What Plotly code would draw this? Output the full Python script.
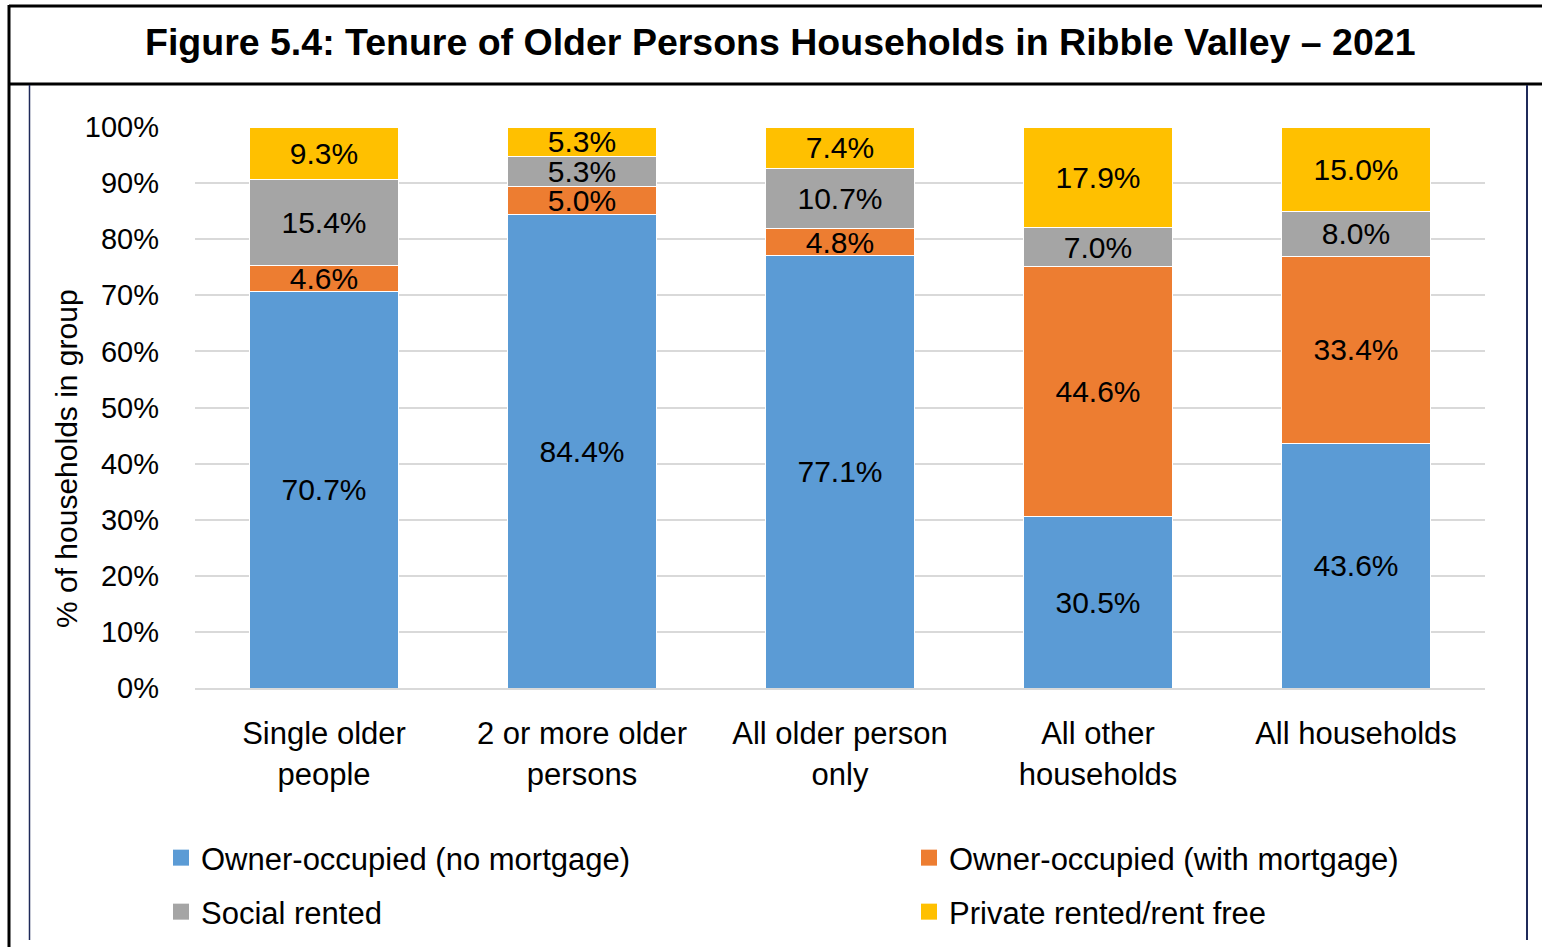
import plotly.graph_objects as go

categories = ["Single older<br>people", "2 or more older<br>persons", "All older person<br>only",
              "All other<br>households", "All households"]
series_names = ["Owner-occupied (no mortgage)", "Owner-occupied (with mortgage)",
                "Social rented", "Private rented/rent free"]
owner_no_mortgage = [70.7, 84.4, 77.1, 30.5, 43.6]
owner_mortgage = [4.6, 5.0, 4.8, 44.6, 33.4]
social_rented = [15.4, 5.3, 10.7, 7.0, 8.0]
private_rented = [9.3, 5.3, 7.4, 17.9, 15.0]
colors = ["#5B9BD5", "#ED7D31", "#A5A5A5", "#FFC000"]
y_ticks = list(range(0, 101, 10))
y_ticktext = [f"{v}%" for v in y_ticks]

W, H = 1542, 947
L, R, T, B = 195, 57, 127, 259
PW, PH = W - L - R, H - T - B

def px(x):
    return (x - L) / PW

def py(y):
    return (H - B - y) / PH

FONT = "Liberation Sans, Arial, sans-serif"

fig = go.Figure()
series_vals = [owner_no_mortgage, owner_mortgage, social_rented, private_rented]
for name, vals, col in zip(series_names, series_vals, colors):
    fig.add_trace(go.Bar(
        x=categories, y=vals, name=name, showlegend=False,
        marker=dict(color=col, line=dict(color="white", width=1)),
        text=vals, texttemplate="%{y:.1f}%",
        textposition="inside", insidetextanchor="middle", textangle=0,
        constraintext="none",
        textfont=dict(family=FONT, size=30, color="black"),
        hoverinfo="skip",
    ))

# legend entries (square swatches), one legend box per entry, laid out 2 x 2
legend_ids = ["legend", "legend2", "legend3", "legend4"]
for name, col, lg in zip(series_names, colors, legend_ids):
    fig.add_trace(go.Scatter(
        x=[None], y=[None], mode="markers", name=name, legend=lg,
        marker=dict(symbol="square", size=17, color=col),
        hoverinfo="skip", showlegend=True,
    ))

shapes = [
    dict(type="line", xref="paper", yref="paper", x0=px(9), x1=px(1542), y0=py(6), y1=py(6),
         line=dict(color="black", width=3)),
    dict(type="line", xref="paper", yref="paper", x0=px(9), x1=px(1542), y0=py(84), y1=py(84),
         line=dict(color="black", width=3)),
    dict(type="line", xref="paper", yref="paper", x0=px(9), x1=px(9), y0=py(5), y1=py(950),
         line=dict(color="black", width=3)),
    dict(type="line", xref="paper", yref="paper", x0=px(29.5), x1=px(29.5), y0=py(85), y1=py(940),
         line=dict(color="#1F2A5A", width=1.5)),
    dict(type="line", xref="paper", yref="paper", x0=px(1527), x1=px(1527), y0=py(85), y1=py(940),
         line=dict(color="#1F2A5A", width=2)),
]

annotations = [
    dict(text="<b>Figure 5.4: Tenure of Older Persons Households in Ribble Valley – 2021</b>",
         xref="paper", yref="paper", x=px(780), y=py(42), xanchor="center", yanchor="middle",
         showarrow=False, font=dict(family=FONT, size=37.5, color="black")),
    dict(text="% of households in group", textangle=-90,
         xref="paper", yref="paper", x=px(66), y=py(459), xanchor="center", yanchor="middle",
         showarrow=False, font=dict(family=FONT, size=30, color="black")),
]

legend_common = dict(orientation="v", xanchor="left", yanchor="top",
                     font=dict(family=FONT, size=31, color="black"),
                     bgcolor="rgba(0,0,0,0)", borderwidth=0)

fig.update_layout(
    width=W, height=H,
    margin=dict(l=L, r=R, t=T, b=B, pad=0, autoexpand=False),
    paper_bgcolor="white", plot_bgcolor="white",
    barmode="stack", bargap=0.426,
    uniformtext=dict(minsize=30, mode="show"),
    shapes=shapes, annotations=annotations,
    showlegend=True,
    legend=dict(x=px(161), y=py(831), **legend_common),
    legend2=dict(x=px(909), y=py(831), **legend_common),
    legend3=dict(x=px(161), y=py(885), **legend_common),
    legend4=dict(x=px(909), y=py(885), **legend_common),
    xaxis=dict(showgrid=False, showline=True, linecolor="#D9D9D9", linewidth=2,
               ticks="", tickfont=dict(family=FONT, size=31, color="black"),
               ticklabelstandoff=17),
    yaxis=dict(range=[0, 100], tickvals=y_ticks, ticktext=y_ticktext,
               showgrid=True, gridcolor="#D9D9D9", gridwidth=2,
               zeroline=False, showline=False, ticks="",
               tickfont=dict(family=FONT, size=29, color="black"),
               ticklabelstandoff=35),
)

fig.write_html("out.html",
               config={"displayModeBar": False},
               post_script="document.body.style.margin='0';document.body.style.overflow='hidden';")
